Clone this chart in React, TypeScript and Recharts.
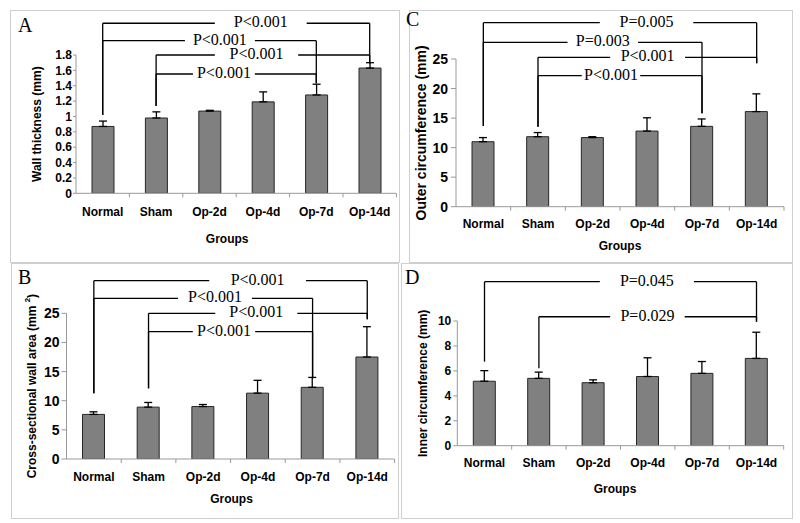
import React from 'react';
import { BarChart, Bar, XAxis, YAxis, ErrorBar, ReferenceLine } from 'recharts';

const groups = ['Normal', 'Sham', 'Op-2d', 'Op-4d', 'Op-7d', 'Op-14d'];

// A: wall thickness (mm)
const wallThickness = [0.87, 0.98, 1.07, 1.19, 1.28, 1.63];
const wallThicknessSd = [0.07, 0.08, 0.01, 0.13, 0.14, 0.07];
const wallTicks = [0, 0.2, 0.4, 0.6, 0.8, 1, 1.2, 1.4, 1.6, 1.8];

// B: cross-sectional wall area (mm2)
const wallArea = [7.65, 8.9, 9.0, 11.3, 12.3, 17.5];
const wallAreaSd = [0.45, 0.8, 0.35, 2.2, 1.7, 5.2];
const areaTicks = [0, 5, 10, 15, 20, 25];

// C: outer circumference (mm)
const outerCirc = [11.0, 11.85, 11.7, 12.8, 13.6, 16.1];
const outerCircSd = [0.7, 0.7, 0.15, 2.25, 1.25, 3.0];
const outerTicks = [0, 5, 10, 15, 20, 25];

// D: inner circumference (mm)
const innerCirc = [5.17, 5.4, 5.05, 5.55, 5.8, 7.0];
const innerCircSd = [0.85, 0.5, 0.23, 1.5, 0.95, 2.1];
const innerTicks = [0, 2, 4, 6, 8, 10];

// significance brackets: group indexes, heights in y units, text gap in band units
type Bracket = {
  from: number;
  to: number;
  level: number;
  fromEnd: number;
  toEnd: number;
  gap: [number, number];
  text: string;
};

const wallBrackets: Bracket[] = [
  { from: 0, to: 5, level: 2.213, fromEnd: 1.019, toEnd: 1.692, gap: [2.6, 4.32], text: 'P<0.001' },
  { from: 0, to: 4, level: 1.986, fromEnd: 1.019, toEnd: 1.432, gap: [2.04, 3.35], text: 'P<0.001' },
  { from: 1, to: 5, level: 1.8, fromEnd: 1.136, toEnd: 1.692, gap: [2.6, 4.16], text: 'P<0.001' },
  { from: 1, to: 4, level: 1.553, fromEnd: 1.136, toEnd: 1.432, gap: [2.19, 3.35], text: 'P<0.001' },
];
const outerBrackets: Bracket[] = [
  { from: 0, to: 5, level: 31.14, fromEnd: 13.66, toEnd: 24.27, gap: [2.63, 4.34], text: 'P=0.005' },
  { from: 0, to: 4, level: 27.83, fromEnd: 13.66, toEnd: 15.81, gap: [2.04, 3.33], text: 'P=0.003' },
  { from: 1, to: 5, level: 25.29, fromEnd: 13.54, toEnd: 24.27, gap: [2.82, 4.19], text: 'P<0.001' },
  { from: 1, to: 4, level: 22.17, fromEnd: 13.54, toEnd: 15.81, gap: [2.3, 3.37], text: 'P<0.001' },
];
const areaBrackets: Bracket[] = [
  { from: 0, to: 5, level: 30.59, fromEnd: 11.27, toEnd: 23.97, gap: [2.61, 4.38], text: 'P<0.001' },
  { from: 0, to: 4, level: 27.57, fromEnd: 11.27, toEnd: 13.85, gap: [2.04, 3.39], text: 'P<0.001' },
  { from: 1, to: 5, level: 25.0, fromEnd: 12.13, toEnd: 23.97, gap: [2.72, 4.22], text: 'P<0.001' },
  { from: 1, to: 4, level: 21.84, fromEnd: 12.13, toEnd: 13.85, gap: [2.31, 3.45], text: 'P<0.001' },
];
const innerBrackets: Bracket[] = [
  { from: 0, to: 5, level: 13.15, fromEnd: 6.74, toEnd: 9.94, gap: [2.62, 4.35], text: 'P=0.045' },
  { from: 1, to: 5, level: 10.34, fromEnd: 6.21, toEnd: 9.94, gap: [2.81, 4.18], text: 'P=0.029' },
];

const SANS = '"Liberation Sans", Arial, sans-serif';
const SERIF = '"Liberation Serif", "Times New Roman", serif';
const AXIS_GRAY = '#999999';

const YTitle = (props: any) => {
  const { viewBox, titleX, text, sup, size } = props;
  if (!viewBox) return null;
  const x = viewBox.x + titleX;
  const y = viewBox.y + viewBox.height / 2;
  return (
    <text
      x={x}
      y={y}
      transform={`rotate(-90, ${x}, ${y})`}
      textAnchor="middle"
      dominantBaseline="central"
      fontFamily={SANS}
      fontWeight="bold"
      fontSize={size}
      fill="#000"
    >
      {text}
      {sup && (
        <tspan fontSize={size * 0.65} dy={-size * 0.4}>
          {sup}
        </tspan>
      )}
      {sup && <tspan dy={size * 0.4}>)</tspan>}
    </text>
  );
};

// horizontal bracket line, broken around its p-value text
const BracketLine = (props: any) => {
  const { x1, x2, y1, bracket } = props;
  const b: Bracket = bracket;
  const perBand = (x2 - x1) / (b.to - b.from);
  const g0 = x1 + (b.gap[0] - b.from - 0.5) * perBand;
  const g1 = x1 + (b.gap[1] - b.from - 0.5) * perBand;
  return (
    <g>
      <line x1={x1} x2={g0} y1={y1} y2={y1} stroke="#000" strokeWidth={1.3} />
      <line x1={g1} x2={x2} y1={y1} y2={y1} stroke="#000" strokeWidth={1.3} />
      <text
        x={(g0 + g1) / 2}
        y={y1 - 1.5}
        textAnchor="middle"
        dominantBaseline="central"
        fontFamily={SERIF}
        fontSize={16}
        fill="#000"
      >
        {b.text}
      </text>
    </g>
  );
};

// short tick under the x axis between two neighbouring groups
const BoundaryTick = (props: any) => {
  const { x1, x2, y1, last } = props;
  const xs = [(x1 + x2) / 2];
  if (last) xs.push(x2 + (x2 - x1) / 2);
  return (
    <g>
      {xs.map((x, i) => (
        <line key={i} x1={x} x2={x} y1={y1} y2={y1 + 4} stroke={AXIS_GRAY} strokeWidth={1} />
      ))}
    </g>
  );
};

type PanelProps = {
  letter: string;
  letterPos: { left: number; top: number };
  box: { left: number; top: number; width: number; height: number };
  values: number[];
  errors: number[];
  ticks: number[];
  brackets: Bracket[];
  yTitle: string;
  yTitleSup?: string;
  yTitleSize: number;
  yTitleX: number;
  margin: { top: number; right: number; bottom: number; left: number };
  yAxisWidth: number;
  yTickSize: number;
  yTickMargin: number;
  yTickFont: number;
  xTickMargin: number;
  xAxisHeight: number;
  groupsDx: number;
};

const Panel = (p: PanelProps) => {
  const data = groups.map((g, i) => ({ group: g, value: p.values[i], err: [0, p.errors[i]] }));
  const yMax = p.ticks[p.ticks.length - 1];
  return (
    <>
      <div
        style={{
          position: 'absolute',
          left: p.box.left,
          top: p.box.top,
          width: p.box.width,
          height: p.box.height,
          boxSizing: 'border-box',
          border: '1px solid #cfcfcf',
        }}
      />
      <div style={{ position: 'absolute', left: p.box.left, top: p.box.top }}>
        <BarChart width={p.box.width} height={p.box.height} data={data} margin={p.margin}>
          <XAxis
            dataKey="group"
            type="category"
            interval={0}
            tickLine={false}
            tickSize={0}
            tickMargin={p.xTickMargin}
            height={p.xAxisHeight}
            axisLine={{ stroke: AXIS_GRAY }}
            tick={{ fill: '#000', fontSize: 12, fontWeight: 'bold', fontFamily: SANS }}
            label={{
              value: 'Groups',
              position: 'insideBottom',
              offset: 0,
              dx: p.groupsDx,
              fill: '#000',
              fontSize: 12,
              fontWeight: 'bold',
              fontFamily: SANS,
            }}
          />
          <YAxis
            domain={[0, yMax]}
            ticks={p.ticks}
            interval={0}
            allowDataOverflow
            width={p.yAxisWidth}
            tickSize={p.yTickSize}
            tickMargin={p.yTickMargin}
            axisLine={{ stroke: AXIS_GRAY }}
            tickLine={{ stroke: AXIS_GRAY }}
            tick={{ fill: '#000', fontSize: p.yTickFont, fontWeight: 'bold', fontFamily: SANS }}
            label={<YTitle titleX={p.yTitleX} text={p.yTitle} sup={p.yTitleSup} size={p.yTitleSize} />}
          />
          {groups.slice(0, -1).map((g, i) => (
            <ReferenceLine
              key={'t' + i}
              ifOverflow="visible"
              segment={[{ x: g, y: 0 }, { x: groups[i + 1], y: 0 }]}
              shape={(sp: any) => <BoundaryTick {...sp} last={i === groups.length - 2} />}
            />
          ))}
          <Bar
            dataKey="value"
            fill="#808080"
            stroke="#262626"
            strokeWidth={1}
            barSize={22}
            isAnimationActive={false}
          >
            <ErrorBar dataKey="err" direction="y" width={4} stroke="#000" strokeWidth={1.3} />
          </Bar>
          {p.brackets.map((b, i) => (
            <React.Fragment key={'b' + i}>
              <ReferenceLine
                ifOverflow="visible"
                segment={[{ x: groups[b.from], y: b.level }, { x: groups[b.from], y: b.fromEnd }]}
                stroke="#000"
                strokeWidth={1.3}
              />
              <ReferenceLine
                ifOverflow="visible"
                segment={[{ x: groups[b.to], y: b.level }, { x: groups[b.to], y: b.toEnd }]}
                stroke="#000"
                strokeWidth={1.3}
              />
              <ReferenceLine
                ifOverflow="visible"
                segment={[{ x: groups[b.from], y: b.level }, { x: groups[b.to], y: b.level }]}
                shape={(sp: any) => <BracketLine {...sp} bracket={b} />}
              />
            </React.Fragment>
          ))}
        </BarChart>
      </div>
      <div
        style={{
          position: 'absolute',
          left: p.letterPos.left,
          top: p.letterPos.top,
          fontFamily: SERIF,
          fontSize: 20,
          lineHeight: '20px',
          color: '#000',
        }}
      >
        {p.letter}
      </div>
    </>
  );
};

export default function App() {
  return (
    <div
      style={{
        position: 'absolute',
        left: 0,
        top: 0,
        width: 800,
        height: 523,
        background: '#fff',
        overflow: 'hidden',
      }}
    >
      <Panel
        letter="A"
        letterPos={{ left: 18, top: 15 }}
        box={{ left: 10, top: 10, width: 390, height: 253 }}
        values={wallThickness}
        errors={wallThicknessSd}
        ticks={wallTicks}
        brackets={wallBrackets}
        yTitle="Wall thickness (mm)"
        yTitleSize={12}
        yTitleX={0.7}
        margin={{ top: 45, right: 3.6, bottom: 19.7, left: 26 }}
        yAxisWidth={40}
        yTickSize={3}
        yTickMargin={1}
        yTickFont={12}
        xTickMargin={14.2}
        xAxisHeight={50}
        groupsDx={-9}
      />
      <Panel
        letter="C"
        letterPos={{ left: 406, top: 9 }}
        box={{ left: 409, top: 10, width: 384, height: 253 }}
        values={outerCirc}
        errors={outerCircSd}
        ticks={outerTicks}
        brackets={outerBrackets}
        yTitle="Outer circumference (mm)"
        yTitleSize={14}
        yTitleX={4.7}
        margin={{ top: 49, right: 9, bottom: 12.7, left: 7 }}
        yAxisWidth={40}
        yTickSize={5}
        yTickMargin={3}
        yTickFont={14}
        xTickMargin={13.1}
        xAxisHeight={43.6}
        groupsDx={0}
      />
      <Panel
        letter="B"
        letterPos={{ left: 18, top: 266.5 }}
        box={{ left: 11, top: 263, width: 388, height: 256 }}
        values={wallArea}
        errors={wallAreaSd}
        ticks={areaTicks}
        brackets={areaBrackets}
        yTitle="Cross-sectional wall area (mm "
        yTitleSup="2"
        yTitleSize={12}
        yTitleX={5.2}
        margin={{ top: 50.3, right: 4.4, bottom: 16.4, left: 15.5 }}
        yAxisWidth={40}
        yTickSize={5}
        yTickMargin={2}
        yTickFont={14}
        xTickMargin={13.5}
        xAxisHeight={43.6}
        groupsDx={1}
      />
      <Panel
        letter="D"
        letterPos={{ left: 405, top: 266.5 }}
        box={{ left: 401, top: 263, width: 392, height: 256 }}
        values={innerCirc}
        errors={innerCircSd}
        ticks={innerTicks}
        brackets={innerBrackets}
        yTitle="Inner circumference (mm)"
        yTitleSize={12}
        yTitleX={5.4}
        margin={{ top: 58, right: 9.3, bottom: 26.3, left: 16.3 }}
        yAxisWidth={40}
        yTickSize={4}
        yTickMargin={2}
        yTickFont={12}
        xTickMargin={12.8}
        xAxisHeight={47}
        groupsDx={-5.5}
      />
    </div>
  );
}
